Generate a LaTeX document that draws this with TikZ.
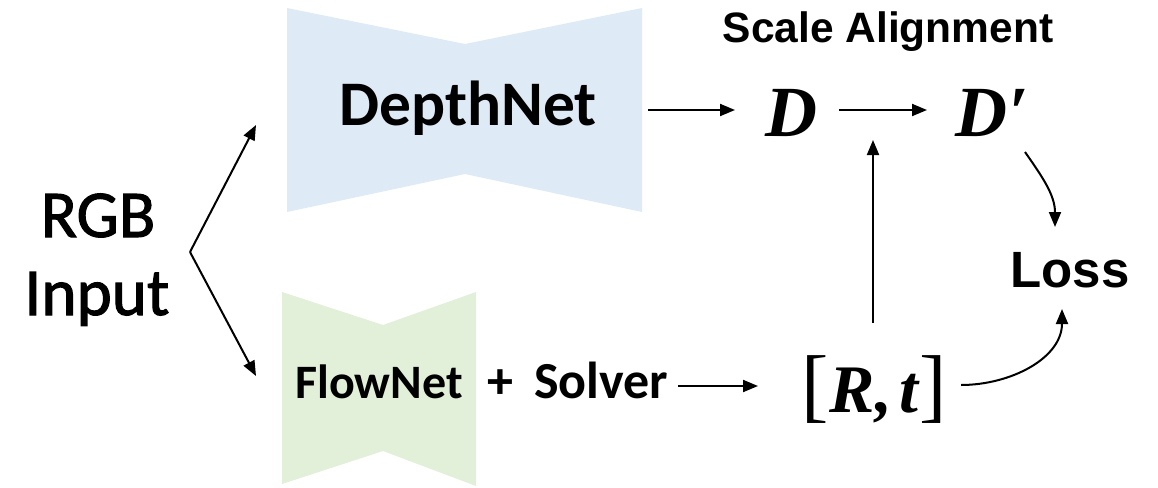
\documentclass[tikz,border=0pt]{standalone}
\usepackage{fontspec}
\setmainfont{Carlito}
\newfontfamily\rgbfont[FakeBold=1.6]{Carlito}
\newfontfamily\arialf{Liberation Sans}
\newfontfamily\timesf{Liberation Serif}
\usetikzlibrary{arrows.meta}
\definecolor{depthblue}{RGB}{222,234,246}
\definecolor{flowgreen}{RGB}{226,239,217}
\begin{document}
\begin{tikzpicture}[x=1pt,y=-1pt,
  arr/.style={line width=2pt,-{Triangle[length=15pt,width=12pt]}},
  lbl/.style={inner sep=0pt,anchor=base},
  mathlbl/.style={lbl,font=\timesf\bfseries\itshape\fontsize{72}{80}\selectfont}]
\useasboundingbox (0,0) rectangle (1158,487);
% network shapes
\fill[depthblue] (287,8) -- (465,44) -- (642,8) -- (642,212) -- (465,174) -- (287,212) -- cycle;
\fill[flowgreen] (282,292) -- (383,325) -- (476,292) -- (476,486) -- (383,451) -- (282,484) -- cycle;
% texts
\node[lbl,font=\rgbfont\fontsize{67}{70}\selectfont] (rgb) at (98,237) {RGB};
\node[lbl,font=\rgbfont\fontsize{67}{70}\selectfont] (input) at (97,315) {Input};
\node[lbl,font=\bfseries\fontsize{63.5}{70}\selectfont] (depth) at (468,125) {DepthNet};
\node[lbl,font=\bfseries\fontsize{48}{60}\selectfont] (flow) at (379,398) {FlowNet};
\node[lbl,font=\bfseries\fontsize{52}{60}\selectfont] (solver) at (578,398) {+\hspace{0.4em}Solver};
\node[lbl,font=\arialf\bfseries\fontsize{42.5}{48}\selectfont] (scale) at (888,42) {Scale Alignment};
\node[mathlbl] (D) at (791,136) {D};
\node[mathlbl] (Dp) at (992,136) {D\hspace{0.02em}′};
\node[lbl,font=\arialf\bfseries\fontsize{51}{60}\selectfont] (loss) at (1070,287) {Loss};
\node[lbl,font=\timesf\fontsize{82}{90}\selectfont] (Rt) at (874,412)
  {[\hspace{0.02em}{\bfseries\itshape\fontsize{68}{80}\selectfont R,\hspace{0.1em}t}\hspace{0.02em}]};
% connector end points
\coordinate (fork) at (190,252);
\coordinate (upTip) at (256,125);
\coordinate (downTip) at (256,376);
\coordinate (dnOut) at (648,110);
\coordinate (dIn) at (735,110);
\coordinate (dOut) at (839,110);
\coordinate (dpIn) at (927,110);
\coordinate (rtUp) at (873,323);
\coordinate (alignTip) at (873,140);
\coordinate (solOut) at (678,386);
\coordinate (rtIn) at (758,386);
\coordinate (dpOut) at (1025,152);
\coordinate (lossTop) at (1055,227);
\coordinate (rtOut) at (961,385);
\coordinate (lossBot) at (1062,309);
% connectors
\draw[arr] (fork) -- (upTip);
\draw[arr] (fork) -- (downTip);
\draw[arr] (dnOut) -- (dIn);
\draw[arr] (dOut) -- (dpIn);
\draw[arr] (rtUp) -- (alignTip);
\draw[arr] (solOut) -- (rtIn);
\draw[arr] (dpOut) to[out=-55,in=90] (lossTop);
\draw[arr] (rtOut) to[out=0,in=-90] (lossBot);
\end{tikzpicture}
\end{document}
